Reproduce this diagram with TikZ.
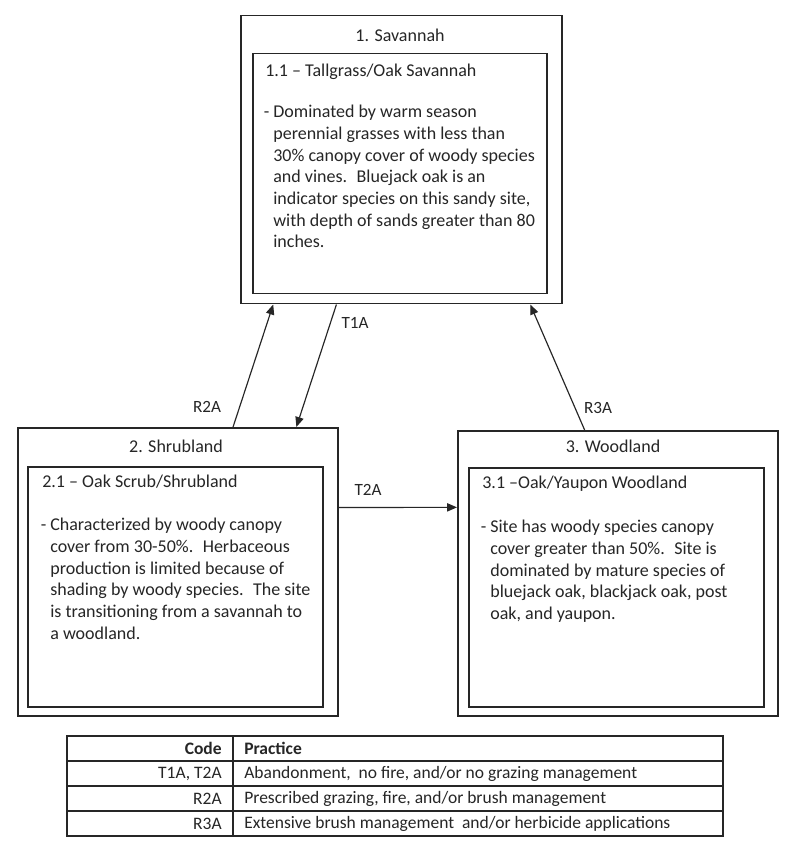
\documentclass[tikz,border=0pt]{standalone}
\usepackage{fontspec}
\setmainfont{Carlito}
\usetikzlibrary{arrows.meta,calc}
\definecolor{ink}{HTML}{262626}
\begin{document}
\begin{tikzpicture}[x=0.6pt,y=-0.6pt,
  box/.style={draw=ink,line width=0.9pt,anchor=north west,inner sep=0pt},
  txt/.style={font=\fontsize{10.8}{13}\selectfont,text=ink,inner sep=0pt,align=left},
  ttl/.style={font=\fontsize{10.8}{13}\selectfont,text=ink,inner sep=0pt},
  lbl/.style={font=\fontsize{10.3}{12}\selectfont,text=ink,inner sep=0pt},
  tbl/.style={font=\fontsize{10.5}{12}\selectfont,text=ink,inner sep=0pt},
  arr/.style={draw=ink,line width=0.7pt,-{Triangle[length=6pt,width=5pt]}},
  rule/.style={draw=ink,line width=0.8pt},
]
\useasboundingbox (0,0) rectangle (800,849);
\fill[white] (0,0) rectangle (800,849);

% Box 1
\node[box,minimum width=192.6pt,minimum height=172.8pt] (o1) at (240,15) {};
\node[box,minimum width=176.4pt,minimum height=144pt] (i1) at (252,53) {};
\node[ttl] (t1) at (400,35) {1. Savannah};
\node[txt,anchor=north west] (s1) at (265,64) {1.1 – Tallgrass/Oak Savannah};
\node[txt,anchor=north west] (b1) at (273,105) {\llap{- }Dominated by warm season\\
perennial grasses with less than\\
30\% canopy cover of woody species\\
and vines.~ Bluejack oak is an\\
indicator species on this sandy site,\\
with depth of sands greater than 80\\
inches.};

% Box 2
\node[box,minimum width=192pt,minimum height=172.8pt] (o2) at (17,427) {};
\node[box,minimum width=177pt,minimum height=144pt] (i2) at (27,466) {};
\node[ttl] (t2) at (176,446) {2. Shrubland};
\node[txt,anchor=north west] (s2) at (42,475) {2.1 – Oak Scrub/Shrubland};
\node[txt,anchor=north west] (b2) at (50,518) {\llap{- }Characterized by woody canopy\\
cover from 30-50\%.~ Herbaceous\\
production is limited because of\\
shading by woody species.~ The site\\
is transitioning from a savannah to\\
a woodland.};

% Box 3
\node[box,minimum width=192pt,minimum height=171pt] (o3) at (457,430) {};
\node[box,minimum width=177pt,minimum height=143.4pt] (i3) at (468,467) {};
\node[ttl] (t3) at (613,446) {3. Woodland};
\node[txt,anchor=north west] (s3) at (482,476) {3.1 –Oak/Yaupon Woodland};
\node[txt,anchor=north west] (b3) at (490,520) {\llap{- }Site has woody species canopy\\
cover greater than 50\%.~ Site is\\
dominated by mature species of\\
bluejack oak, blackjack oak, post\\
oak, and yaupon.};

% Arrows
\draw[arr] ($(o2.north west)!0.672!(o2.north east)$) -- ($(o1.south west)!0.103!(o1.south east)$);
\draw[arr] ($(o1.south west)!0.299!(o1.south east)$) -- ($(o2.north west)!0.869!(o2.north east)$);
\draw[arr] ($(o2.north east)!0.278!(o2.south east)$) -- ($(o3.north west)!0.27!(o3.south west)$);
\draw[arr] ($(o3.north west)!0.397!(o3.north east)$) -- ($(o1.south west)!0.9!(o1.south east)$);
\node[lbl] (lR2A) at (207,407) {R2A};
\node[lbl] (lT1A) at (355,323) {T1A};
\node[lbl] (lT2A) at (368,490) {T2A};
\node[lbl] (lR3A) at (598,408) {R3A};

% Table
\draw[rule] (67,736) rectangle (723,836);
\draw[rule] (67,761) -- (723,761);
\draw[rule] (67,786) -- (723,786);
\draw[rule] (67,811) -- (723,811);
\draw[rule] (233,736) -- (233,836);
\node[tbl,anchor=east] (c0) at (222,748.5) {\bfseries Code};
\node[tbl,anchor=west] (p0) at (244,748.5) {\bfseries Practice};
\node[tbl,anchor=east] (c1) at (222,773.5) {T1A, T2A};
\node[tbl,anchor=west] (p1) at (244,773.5) {Abandonment,~ no fire, and/or no grazing management};
\node[tbl,anchor=east] (c2) at (222,798.5) {R2A};
\node[tbl,anchor=west] (p2) at (244,798.5) {Prescribed grazing, fire, and/or brush management};
\node[tbl,anchor=east] (c3) at (222,823.5) {R3A};
\node[tbl,anchor=west] (p3) at (244,823.5) {Extensive brush management~ and/or herbicide applications};
\end{tikzpicture}
\end{document}
